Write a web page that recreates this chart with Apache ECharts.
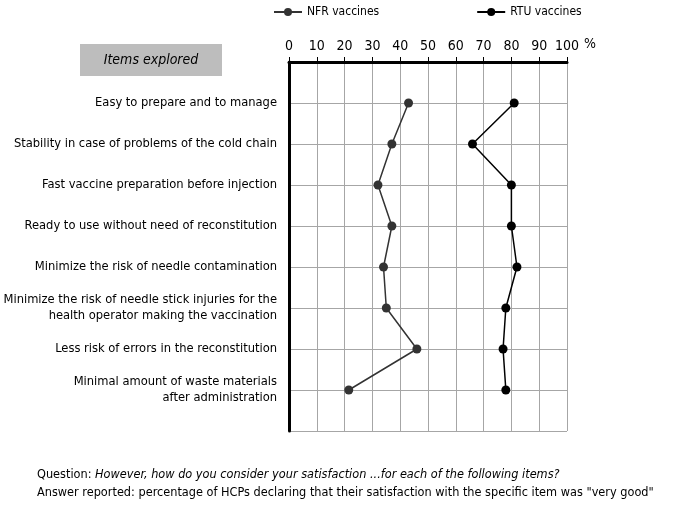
<!DOCTYPE html>
<html>
<head>
<meta charset="utf-8">
<script src="https://cdn.jsdelivr.net/npm/echarts@6/dist/echarts.min.js"></script>
<style>
  html, body { margin: 0; padding: 0; background: #fff; }
  #main { width: 675px; height: 507px; }
</style>
</head>
<body>
<div id="main"></div>
<script>
// items explored, top to bottom
var items = [
  "Easy to prepare and to manage",
  "Stability in case of problems of the cold chain",
  "Fast vaccine preparation before injection",
  "Ready to use without need of reconstitution",
  "Minimize the risk of needle contamination",
  "Minimize the risk of needle stick injuries for the\nhealth operator making the vaccination",
  "Less risk of errors in the reconstitution",
  "Minimal amount of waste materials\nafter administration"
];
var nfrValues = [43, 37, 32, 37, 34, 35, 46, 21.5];
var rtuValues = [81, 66, 80, 80, 82, 78, 77, 78];
var xTicks = [0, 10, 20, 30, 40, 50, 60, 70, 80, 90, 100];

var FONT = "'DejaVu Sans Condensed', 'Liberation Sans Narrow', sans-serif";

function toPoints(values) {
  return values.map(function (v, i) { return [v, i + 1]; });
}

var myChart = echarts.init(document.getElementById("main"));
var option = {
  animation: false,
  textStyle: { fontFamily: FONT, color: "#000" },
  grid: { left: 289, right: 108, top: 62, bottom: 76, outerBoundsMode: "none", containLabel: false },
  legend: {
    left: 268,
    top: 1,
    itemGap: 97,
    itemWidth: 28,
    itemHeight: 10,
    textStyle: { fontFamily: FONT, fontSize: 12, color: "#000" },
    data: ["NFR vaccines", "RTU vaccines"]
  },
  xAxis: {
    type: "value",
    position: "top",
    min: 0,
    max: 100,
    interval: 10,
    axisLine: { show: true, lineStyle: { color: "#000", width: 3 } },
    axisTick: { show: true, length: 5, lineStyle: { color: "#000", width: 1 } },
    axisLabel: {
      color: "#000",
      fontSize: 14,
      fontFamily: FONT,
      margin: 9,
      formatter: function (v) { return xTicks.indexOf(v) >= 0 ? String(v) : ""; }
    },
    splitLine: { show: true, lineStyle: { color: "#a6a6a6", width: 1 } }
  },
  yAxis: {
    type: "value",
    inverse: true,
    min: 0,
    max: 9,
    interval: 1,
    axisLine: { show: true, lineStyle: { color: "#000", width: 3 } },
    axisTick: { show: false },
    axisLabel: {
      color: "#000",
      fontSize: 12.8,
      fontFamily: FONT,
      margin: 12,
      lineHeight: 16,
      align: "right",
      formatter: function (v) { return items[v - 1] || ""; }
    },
    splitLine: { show: true, lineStyle: { color: "#a6a6a6", width: 1 } }
  },
  series: [
    {
      name: "NFR vaccines",
      type: "line",
      data: toPoints(nfrValues),
      symbol: "circle",
      symbolSize: 9,
      color: "#333",
      lineStyle: { color: "#333", width: 1.5 },
      itemStyle: { color: "#333" }
    },
    {
      name: "RTU vaccines",
      type: "line",
      data: toPoints(rtuValues),
      symbol: "circle",
      symbolSize: 9,
      color: "#000",
      lineStyle: { color: "#000", width: 1.5 },
      itemStyle: { color: "#000" }
    }
  ],
  graphic: [
    {
      type: "rect",
      shape: { x: 80, y: 44, width: 142, height: 32 },
      style: { fill: "#bdbdbd" }
    },
    {
      type: "text",
      x: 151,
      y: 60,
      style: {
        text: "Items explored",
        font: "italic 14px " + FONT,
        fill: "#000",
        align: "center",
        verticalAlign: "middle"
      }
    },
    {
      type: "text",
      x: 590,
      y: 44,
      style: {
        text: "%",
        font: "14px " + FONT,
        fill: "#000",
        align: "center",
        verticalAlign: "middle"
      }
    },
    {
      type: "text",
      x: 37,
      y: 475,
      style: {
        text: "{n|Question: }{i|However, how do you consider your satisfaction ...for each of the following items?}",
        verticalAlign: "middle",
        rich: {
          n: { font: "12.6px " + FONT, fill: "#000" },
          i: { font: "italic 12.6px " + FONT, fill: "#000" }
        }
      }
    },
    {
      type: "text",
      x: 37,
      y: 493,
      style: {
        text: "Answer reported: percentage of HCPs declaring that their satisfaction with the specific item was \"very good\"",
        font: "12.6px " + FONT,
        fill: "#000",
        verticalAlign: "middle"
      }
    }
  ]
};
myChart.setOption(option);
</script>
</body>
</html>
